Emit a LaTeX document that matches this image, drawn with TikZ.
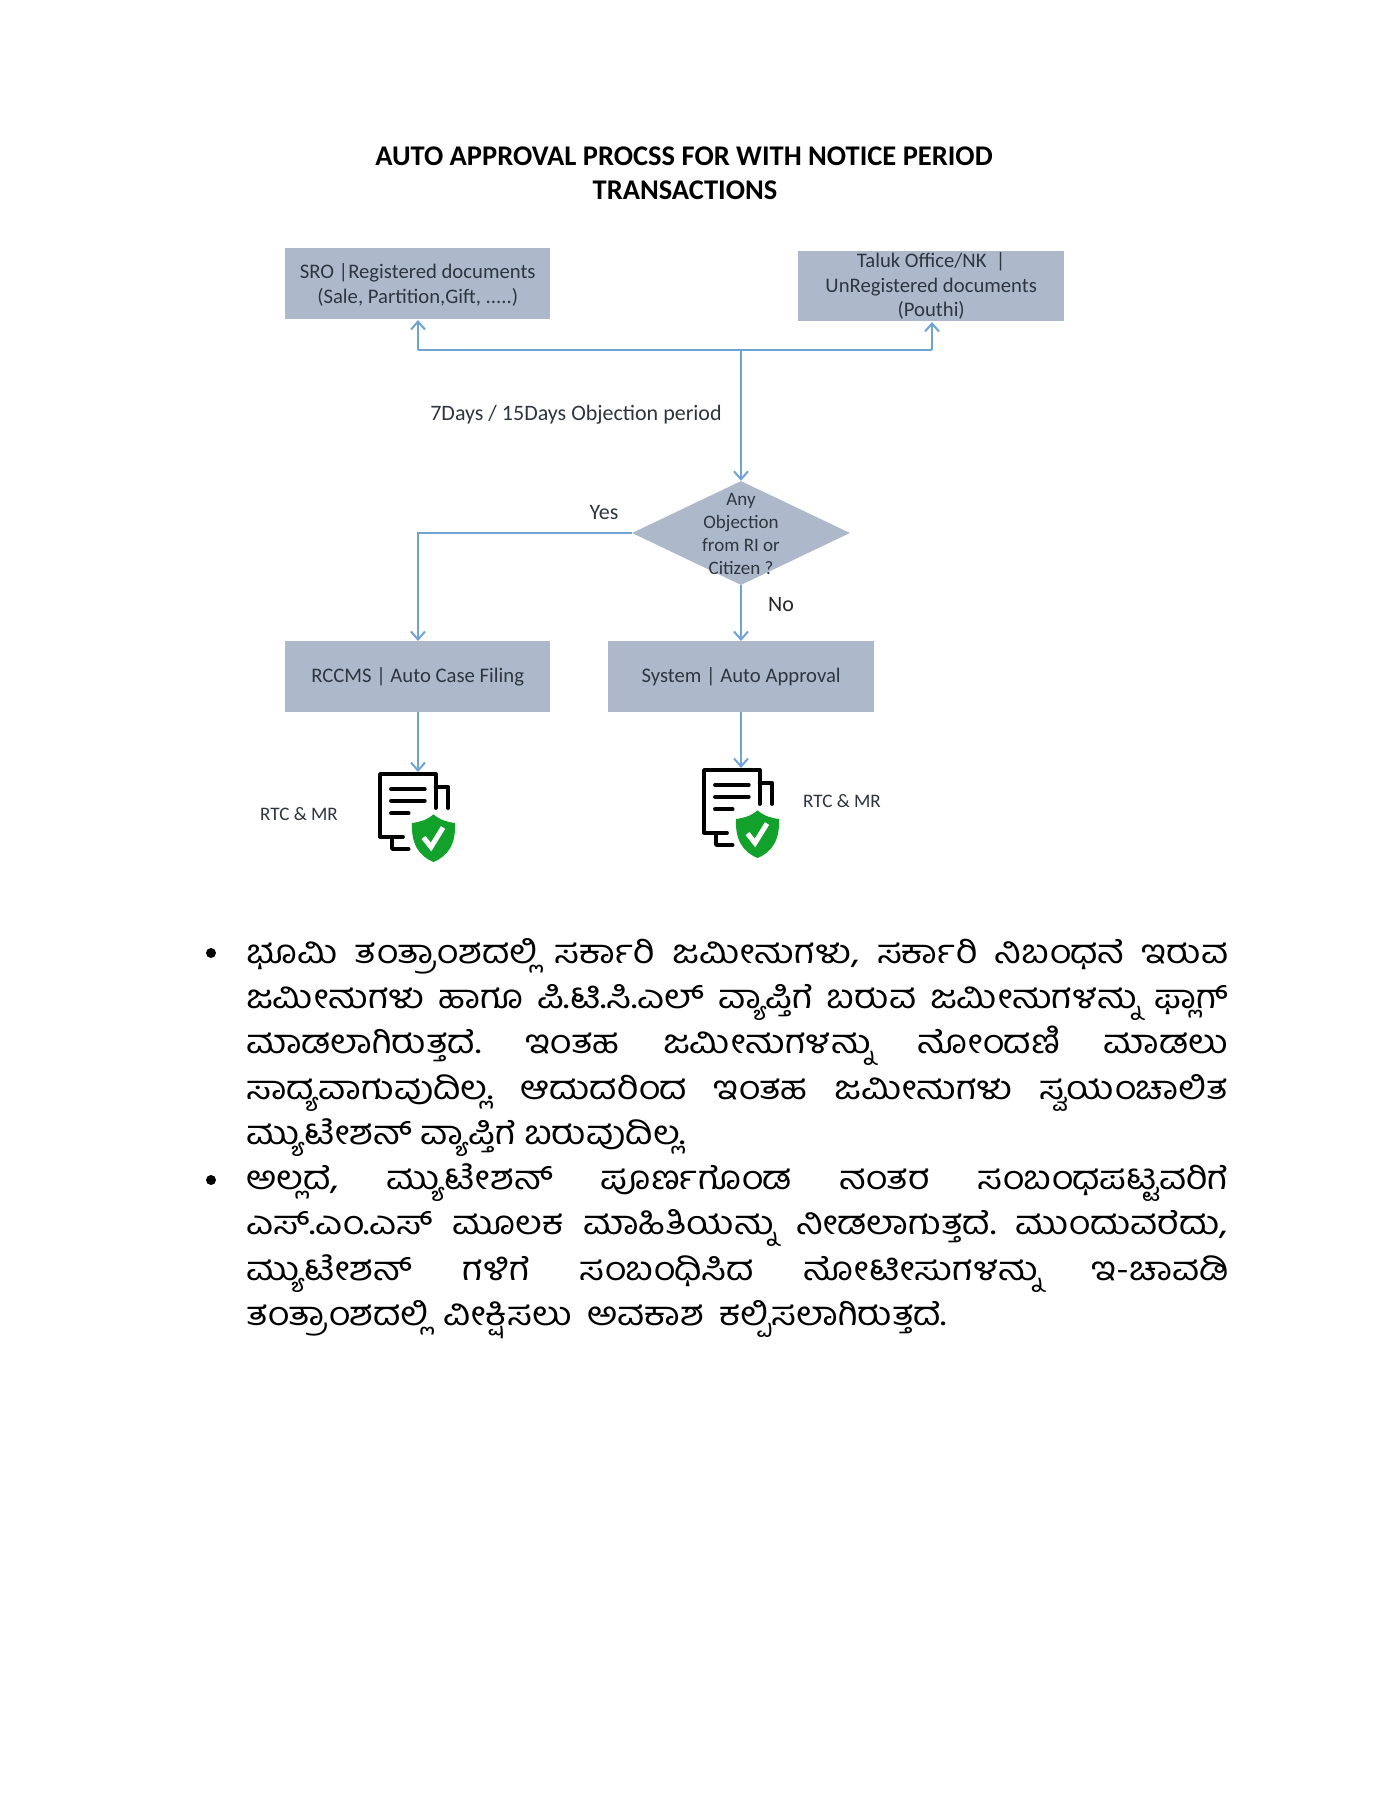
\documentclass[tikz,border=0pt]{standalone}
\usepackage{fontspec}
\usetikzlibrary{arrows.meta,shapes.geometric}
\setmainfont{Carlito}
\newfontfamily\kannada[Script=Kannada,FakeStretch=1.13]{Hind Mysuru}
\definecolor{boxfill}{HTML}{ADB9CA}
\definecolor{flowline}{HTML}{6FA3D4}
\definecolor{boxtext}{HTML}{2E3540}
\definecolor{shieldgreen}{HTML}{12A22B}
\newcommand{\kjust}[2][982pt]{\hbox to #1{\kannada\fontsize{33}{36}\selectfont\spaceskip=6pt plus 1fil\relax #2}}
\newcommand{\docicon}[2]{%
\begin{scope}[shift={(#1,#2)},line width=3.8pt,line cap=round,line join=round]
\draw (24,64.7) -- (1,64.7) -- (1,2) -- (56.6,2) -- (56.6,36);
\draw (56.6,14.7) -- (69,14.7) -- (69,36);
\draw (13,66) -- (13,77) -- (29.6,77);
\draw (12,17) -- (45.8,17);
\draw (12,28.7) -- (45.8,28.7);
\draw (12,41.3) -- (29.6,41.3);
\fill[shieldgreen] (54.5,42.3) .. controls (48,48) and (41,50) .. (33,51) .. controls (32,72) and (40,84) .. (54.5,90) .. controls (69,84) and (77,72) .. (76,51) .. controls (68,50) and (61,48) .. (54.5,42.3) -- cycle;
\draw[white,line width=5pt,line cap=butt,line join=miter] (44.5,65.5) -- (52,75) -- (64,55.5);
\end{scope}}
\tikzset{
  x=1pt,y=-1pt,
  flowbox/.style={fill=boxfill,inner sep=0pt,text=boxtext,font=\fontsize{20.7}{25}\selectfont,align=center,anchor=north west},
  decision/.style={diamond,fill=boxfill,inner sep=0pt,aspect=2.14,minimum width=218pt,minimum height=104pt},
  flowarrow/.style={draw=flowline,line width=2.7pt,-{Straight Barb[length=8pt,width=14pt,line width=2pt]}},
  flowplain/.style={draw=flowline,line width=2.7pt},
  plainlabel/.style={text=boxtext,inner sep=0pt,font=\fontsize{22}{24}\selectfont},
  smalllabel/.style={text=boxtext,inner sep=0pt,font=\fontsize{19.1}{22}\selectfont},
  title/.style={inner sep=0pt,text=black,font=\bfseries\fontsize{28.5}{32}\selectfont},
  textline/.style={inner sep=0pt,anchor=base west,text=black},
  bulletdot/.style={circle,fill=black,inner sep=0pt,minimum size=10pt}
}
\begin{document}
\begin{tikzpicture}
\useasboundingbox (0,0) rectangle (1391,1800);
\fill[white] (0,0) rectangle (1391,1800);
\node[title] (t1) at (684,156) {AUTO APPROVAL PROCSS FOR WITH NOTICE PERIOD};
\node[title] (t2) at (685,190) {TRANSACTIONS};

\node[flowbox,minimum width=265pt,minimum height=71pt,text depth=0pt] (sro) at (285,248) {\rule{0pt}{2pt}SRO |Registered documents\\(Sale, Partition,Gift, .....)};
\node[flowbox,minimum width=266pt,minimum height=70pt,font=\fontsize{20.7}{24.7}\selectfont] (taluk) at (798,251) {Taluk Office/NK\ \ |\\UnRegistered documents\\(Pouthi)};
\node[decision] (dec) at (741,533) {};
\node[plainlabel,font=\fontsize{19}{23}\selectfont,align=center] (dectext) at (741,534) {Any\\Objection\\from RI or\\Citizen ?};
\node[flowbox,minimum width=265pt,minimum height=71pt] (rccms) at (285,641) {RCCMS\ |\ Auto Case Filing};
\node[flowbox,minimum width=266pt,minimum height=71pt] (sys) at (608,641) {System\ |\ Auto Approval};

\coordinate (bus) at (741,350);
\coordinate (busl) at (418,350);
\coordinate (busr) at (932,350);
\coordinate (yesc) at (418,533);
\coordinate (doca) at (418,772);
\coordinate (docb) at (741,768);

\draw[flowplain] (busl) -- (busr);
\draw[flowarrow] (busl) -- (418,320);
\draw[flowarrow] (busr) -- (932,322);
\draw[flowarrow] (bus) -- (dec.north);
\draw[flowarrow] (dec.west) -- (yesc) -- (rccms.north -| yesc);
\draw[flowarrow] (dec.south) -- (sys.north -| dec.south);
\draw[flowarrow] (rccms.south -| doca) -- (doca);
\draw[flowarrow] (sys.south -| docb) -- (docb);

\node[plainlabel] (period) at (576,415) {7Days / 15Days Objection period};
\node[plainlabel] (yes) at (604,513) {Yes};
\node[plainlabel,text=black!85] (no) at (781,605) {No};
\node[smalllabel] (rtca) at (299,814) {RTC \& MR};
\node[smalllabel] (rtcb) at (842,801) {RTC \& MR};
\docicon{379}{772}
\docicon{703}{768}

\node[bulletdot] (b1) at (211,953) {};
\node[bulletdot] (b2) at (211,1180) {};
\node[textline] (l1) at (246,963) {\kjust{ಭೂಮಿ\hfil ತಂತ್ರಾಂಶದಲ್ಲಿ\hfil ಸರ್ಕಾರಿ\hfil ಜಮೀನುಗಳು,\hfil ಸರ್ಕಾರಿ\hfil ನಿಬಂಧನೆ\hfil ಇರುವ}};
\node[textline] (l2) at (246,1008) {\kjust{ಜಮೀನುಗಳು\hfil ಹಾಗೂ\hfil ಪಿ.ಟಿ.ಸಿ.ಎಲ್\hfil ವ್ಯಾಪ್ತಿಗೆ\hfil ಬರುವ\hfil ಜಮೀನುಗಳನ್ನು\hfil ಫ್ಲಾಗ್}};
\node[textline] (l3) at (246,1053) {\kjust{ಮಾಡಲಾಗಿರುತ್ತದೆ.\hfil ಇಂತಹ\hfil ಜಮೀನುಗಳನ್ನು\hfil ನೋಂದಣಿ\hfil ಮಾಡಲು}};
\node[textline] (l4) at (246,1099) {\kjust{ಸಾದ್ಯವಾಗುವುದಿಲ್ಲ.\hfil ಆದುದರಿಂದ\hfil ಇಂತಹ\hfil ಜಮೀನುಗಳು\hfil ಸ್ವಯಂಚಾಲಿತ}};
\node[textline] (l5) at (246,1144) {\kjust[440pt]{ಮ್ಯುಟೇಶನ್ ವ್ಯಾಪ್ತಿಗೆ ಬರುವುದಿಲ್ಲ.}};
\node[textline] (l6) at (246,1189) {\kjust{ಅಲ್ಲದೆ,\hfil ಮ್ಯುಟೇಶನ್\hfil ಪೂರ್ಣಗೊಂಡ\hfil ನಂತರ\hfil ಸಂಬಂಧಪಟ್ಟವರಿಗೆ}};
\node[textline] (l7) at (246,1234) {\kjust{ಎಸ್.ಎಂ.ಎಸ್\hfil ಮೂಲಕ\hfil ಮಾಹಿತಿಯನ್ನು\hfil ನೀಡಲಾಗುತ್ತದೆ.\hfil ಮುಂದುವರೆದು,}};
\node[textline] (l8) at (246,1280) {\kjust{ಮ್ಯುಟೇಶನ್\hfil ಗಳಿಗೆ\hfil ಸಂಬಂಧಿಸಿದ\hfil ನೋಟೀಸುಗಳನ್ನು\hfil ಇ-ಚಾವಡಿ}};
\node[textline] (l9) at (246,1325) {\kjust[701pt]{ತಂತ್ರಾಂಶದಲ್ಲಿ ವೀಕ್ಷಿಸಲು ಅವಕಾಶ ಕಲ್ಪಿಸಲಾಗಿರುತ್ತದೆ.}};
\end{tikzpicture}
\end{document}
